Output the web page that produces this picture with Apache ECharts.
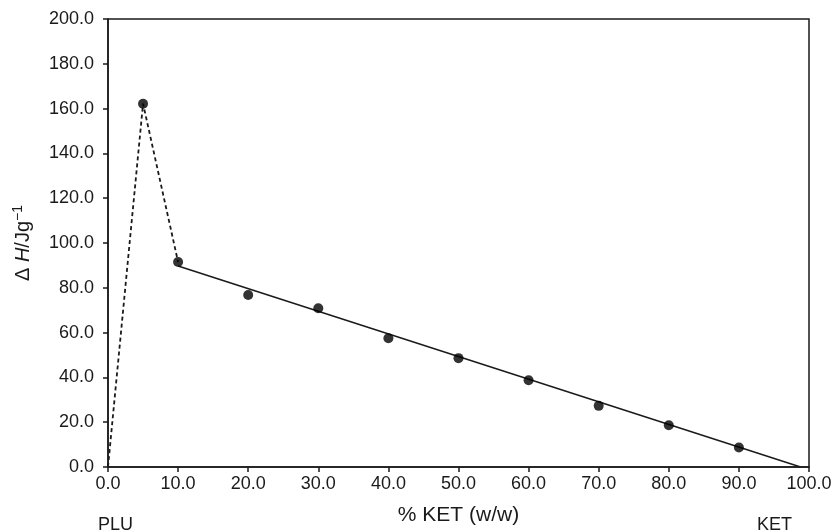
<!DOCTYPE html>
<html>
<head>
<meta charset="utf-8">
<script src="https://cdn.jsdelivr.net/npm/echarts@6/dist/echarts.min.js"></script>
<style>
  html, body { margin: 0; padding: 0; background: #fff; }
  #chart { width: 838px; height: 532px; }
</style>
</head>
<body>
<div id="chart"></div>
<script>
// measured points (% KET, ΔH)
const ketPercent = [10, 20, 30, 40, 50, 60, 70, 80, 90];
const deltaH = [91.5, 76.8, 70.9, 57.5, 48.6, 38.7, 27.3, 18.6, 8.7];

// low-KET region, drawn dashed
const peakX = [0, 5, 10];
const peakY = [0, 162.2, 91.5];

// linear fit through the high-KET points
const fitX = [10, 98.8];
const fitY = [89.7, 0];

const font = 'Liberation Sans, Arial, sans-serif';
const ink = '#1a1a1a';

const chart = echarts.init(document.getElementById('chart'));

const option = {
    animation: false,
    backgroundColor: '#fff',
    grid: {
        left: 108, right: 29, top: 19, bottom: 65,
        show: true,
        borderColor: ink,
        borderWidth: 1.5
    },
    xAxis: {
        type: 'value',
        min: 0, max: 100, interval: 10,
        name: '% KET (w/w)',
        nameLocation: 'middle',
        nameGap: 38,
        nameTextStyle: { fontFamily: font, fontSize: 21, color: ink },
        axisLine: { lineStyle: { color: ink, width: 1.5 } },
        axisTick: { inside: false, length: 5, lineStyle: { color: ink, width: 1.5 } },
        axisLabel: {
            fontFamily: font, fontSize: 18, color: ink, margin: 8,
            formatter: v => v.toFixed(1)
        },
        splitLine: { show: false }
    },
    yAxis: {
        type: 'value',
        min: 0, max: 200, interval: 20,
        name: '{d|Δ }{i|H}{d|/Jg}{s|−1}',
        nameLocation: 'middle',
        nameGap: 75,
        nameTextStyle: {
            fontFamily: font, fontSize: 20, color: ink,
            rich: {
                d: { fontFamily: font, fontSize: 20, color: ink, lineHeight: 22, verticalAlign: 'bottom' },
                i: { fontFamily: font, fontSize: 20, color: ink, fontStyle: 'italic', lineHeight: 22, verticalAlign: 'bottom' },
                s: { fontFamily: font, fontSize: 14, color: ink, lineHeight: 22, verticalAlign: 'top' }
            }
        },
        axisLine: { lineStyle: { color: ink, width: 1.5 } },
        axisTick: { inside: false, length: 5, lineStyle: { color: ink, width: 1.5 } },
        axisLabel: {
            fontFamily: font, fontSize: 18, color: ink, margin: 14,
            formatter: v => v.toFixed(1)
        },
        splitLine: { show: false }
    },
    graphic: [
        { type: 'text', left: 98, top: 516, style: { text: 'PLU', font: '18px ' + font, fill: ink } },
        { type: 'text', left: 757, top: 516, style: { text: 'KET', font: '18px ' + font, fill: ink } }
    ],
    series: [
        {
            type: 'line',
            data: peakX.map((x, i) => [x, peakY[i]]),
            showSymbol: false,
            lineStyle: { color: ink, width: 1.8, type: [4, 3] },
            z: 2
        },
        {
            type: 'line',
            data: fitX.map((x, i) => [x, fitY[i]]),
            showSymbol: false,
            lineStyle: { color: ink, width: 1.5 },
            z: 2
        },
        {
            type: 'scatter',
            data: [[peakX[1], peakY[1]]].concat(ketPercent.map((x, i) => [x, deltaH[i]])),
            symbol: 'circle',
            symbolSize: 10,
            itemStyle: { color: '#000' },
            z: 3
        }
    ]
};

chart.setOption(option);
</script>
</body>
</html>
